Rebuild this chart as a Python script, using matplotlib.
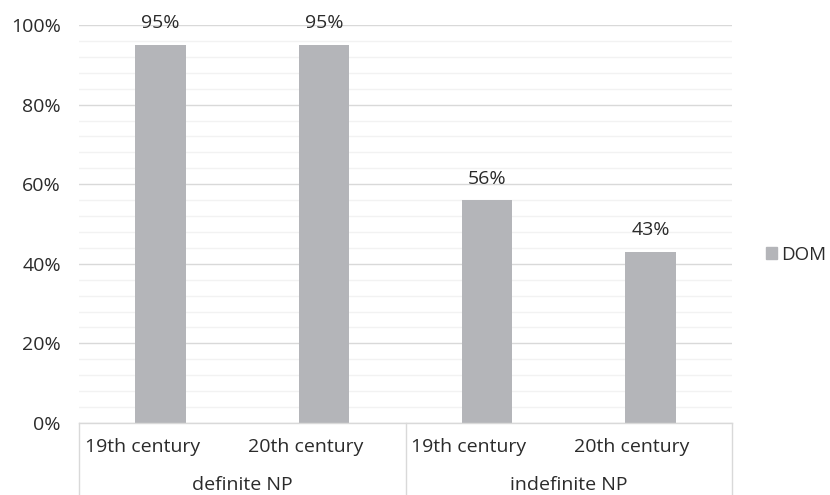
import matplotlib
matplotlib.use("Agg")
import matplotlib.pyplot as plt
import matplotlib.transforms as mtransforms
from matplotlib.patches import Patch

plt.rcParams['font.family'] = ['Open Sans', 'DejaVu Sans']

periods = ["19th century", "20th century", "19th century", "20th century"]
groups = ["definite NP", "indefinite NP"]
dom_values = [95, 95, 56, 43]
y_ticks = [0, 20, 40, 60, 80, 100]
series_name = "DOM"

bar_color = "#B4B5B9"
text_color = "#2B2B2B"
fs = 14

W, H = 830, 495
fig = plt.figure(figsize=(W / 100, H / 100), dpi=100)
left, right, top, bottom = 79, 732, 25, 423
ax = fig.add_axes([left / W, (H - bottom) / H, (right - left) / W, (bottom - top) / H])

x = list(range(len(dom_values)))
bars = ax.bar(x, dom_values, width=0.31, color=bar_color, zorder=3)

ax.set_xlim(-0.5, len(dom_values) - 0.5)
ax.set_ylim(0, 100)

# gridlines: major every 20%, minor every 4%
ax.set_yticks(y_ticks)
ax.set_yticklabels([f"{t}%" for t in y_ticks], fontsize=fs, color=text_color)
ax.set_yticks(range(0, 101, 4), minor=True)
ax.grid(axis="y", which="major", color="#D9D9D9", linewidth=1.0, zorder=0)
ax.grid(axis="y", which="minor", color="#F2F2F2", linewidth=1.0, zorder=0)
ax.tick_params(axis="y", which="both", length=0, pad=13)

for s in ax.spines.values():
    s.set_visible(False)

# category axis: period labels sit at the left of each category cell
ax.set_xticks([])
trans = mtransforms.blended_transform_factory(ax.transData, ax.transAxes)
h_ax = bottom - top
for xi, p in zip(x, periods):
    ax.annotate(p, (xi - 0.5, -24 / h_ax), xycoords=trans, xytext=(4, 0),
                textcoords="offset points", ha="left", va="center",
                fontsize=fs, color=text_color)

depth = -(H - bottom) / h_ax
line_kw = dict(color="#D9D9D9", linewidth=1.0, clip_on=False, transform=trans, zorder=4)
ax.plot([-0.5, len(dom_values) - 0.5], [0, 0], **line_kw)
for xb in [-0.5, 1.5, 3.5]:
    ax.plot([xb, xb], [0, depth], **line_kw)

for gi, g in enumerate(groups):
    ax.text(gi * 2 + 0.5, -62 / h_ax, g, transform=trans, ha="center",
            va="center", fontsize=fs, color=text_color)

# value labels
for b, v in zip(bars, dom_values):
    ax.annotate(f"{v}%", (b.get_x() + b.get_width() / 2, v), xytext=(0, 9),
                textcoords="offset points", ha="center", va="bottom",
                fontsize=fs, color=text_color)

fig.legend(handles=[Patch(color=bar_color, label=series_name)], loc="center left",
           bbox_to_anchor=(766 / W, (H - 255) / H), frameon=False, fontsize=13.5,
           handlelength=0.6, handleheight=0.6, handletextpad=0.2,
           labelcolor=text_color, borderpad=0, borderaxespad=0)

fig.savefig("out.png", dpi=100)
